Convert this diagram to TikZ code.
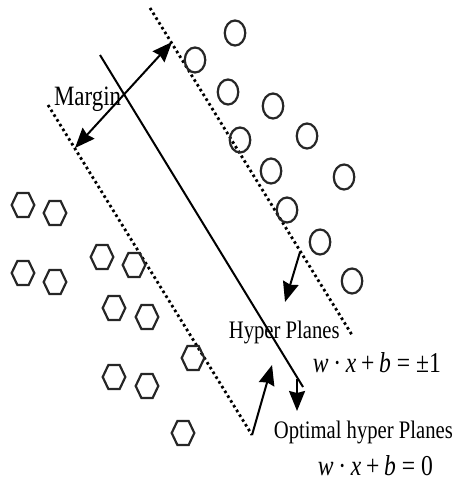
\documentclass[tikz,border=0pt]{standalone}
\usepackage{fontspec}
\setmainfont{Liberation Serif}
\usetikzlibrary{arrows.meta, shapes.geometric}
\tikzset{
  every picture/.style={line width=1pt},
  plane/.style={draw=black, line width=1pt},
  bound/.style={draw=black, line width=1.4pt, dash pattern=on 1.3pt off 1.5pt},
  arrow/.style={->, draw=black, line width=1pt},
  ringpt/.style={circle, draw=black!85, line width=1.1pt, minimum size=12.5pt, inner sep=0pt},
  hexpt/.style={regular polygon, regular polygon sides=6, draw=black!85, line width=1.1pt, minimum size=13.8pt, inner sep=0pt},
  lab/.style={inner sep=0pt, font=\fontsize{12.6}{14}\selectfont},
  eq/.style={inner sep=0pt, font=\fontsize{14.4}{16}\selectfont},
}

\begin{document}
\begin{tikzpicture}[x=0.6098pt, y=-0.5pt, xscale=0.82, transform shape,
  >={Stealth[length=10pt, width=8pt, inset=1pt]}]
  \useasboundingbox (0,0) rectangle (454,482);
  % the three planes
  \coordinate (hi-a) at (150,8);
  \coordinate (hi-b) at (352,335);
  \coordinate (opt-a) at (100,55);
  \coordinate (opt-b) at (303,387);
  \coordinate (lo-a) at (48,105);
  \coordinate (lo-b) at (252,435);
  \draw[bound] (hi-a) -- (hi-b);
  \draw[plane] (opt-a) -- (opt-b);
  \draw[bound] (lo-a) -- (lo-b);
  % one class
  \node[ringpt] (c1) at (235,33) {};
  \node[ringpt] (c2) at (195,60) {};
  \node[ringpt] (c3) at (228,92) {};
  \node[ringpt] (c4) at (273,106) {};
  \node[ringpt] (c5) at (240,140) {};
  \node[ringpt] (c6) at (307,136) {};
  \node[ringpt] (c7) at (271,171) {};
  \node[ringpt] (c8) at (344,177) {};
  \node[ringpt] (c9) at (287,210) {};
  \node[ringpt] (c10) at (320,242) {};
  \node[ringpt] (c11) at (352,281) {};
  % other class
  \node[hexpt] (h1) at (23,205) {};
  \node[hexpt] (h2) at (55,213) {};
  \node[hexpt] (h3) at (23,273) {};
  \node[hexpt] (h4) at (55,282) {};
  \node[hexpt] (h5) at (102,257) {};
  \node[hexpt] (h6) at (134,265) {};
  \node[hexpt] (h7) at (114,308) {};
  \node[hexpt] (h8) at (147,317) {};
  \node[hexpt] (h9) at (193,358) {};
  \node[hexpt] (h10) at (114,377) {};
  \node[hexpt] (h11) at (147,386) {};
  \node[hexpt] (h12) at (183,433) {};
  % labels
  \node[lab, anchor=base east, font=\fontsize{14}{16}\selectfont] (mlab) at (122,105) {Margin};
  \node[lab, anchor=base west] (hp) at (228,338) {Hyper Planes};
  \node[eq, anchor=base west] (hpeq) at (312,372) {\textit{w}\hspace{.2em}·\hspace{.2em}\textit{x}\hspace{.2em}+\hspace{.2em}\textit{b}\hspace{.25em}=\hspace{.25em}±1};
  \node[lab, anchor=base west] (op) at (273,438) {Optimal hyper Planes};
  \node[eq, anchor=base west] (opeq) at (317,475) {\textit{w}\hspace{.2em}·\hspace{.2em}\textit{x}\hspace{.2em}+\hspace{.2em}\textit{b}\hspace{.25em}=\hspace{.25em}0};
  % arrows
  \coordinate (m-up) at (172,42);
  \coordinate (m-lo) at (75,148);
  \coordinate (hp-from) at (300,252);
  \coordinate (hp-to) at (285,302);
  \coordinate (hp-to2) at (272,365);
  \coordinate (op-from) at (297,379);
  \coordinate (op-to) at (297,411);
  \draw[arrow, <->] (m-lo) -- (m-up);
  \draw[arrow] (hp-from) -- (hp-to);
  \draw[arrow] (lo-b) -- (hp-to2);
  \draw[arrow] (op-from) -- (op-to);
\end{tikzpicture}
\end{document}
